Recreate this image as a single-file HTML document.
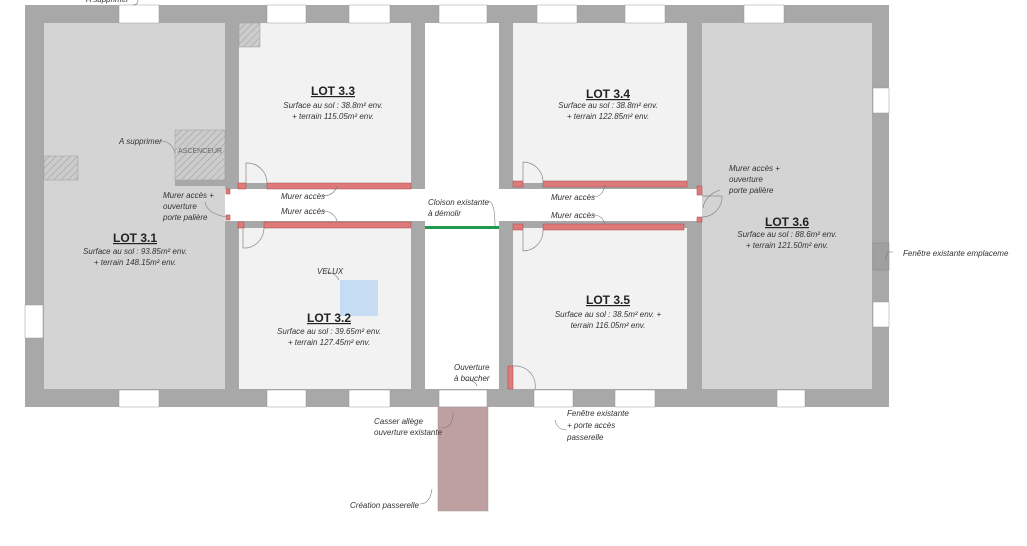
<!DOCTYPE html>
<html><head><meta charset="utf-8"><style>
html,body{margin:0;padding:0;background:#fff;width:1027px;height:546px;overflow:hidden}
text{font-family:"Liberation Sans",sans-serif;font-style:italic;font-size:8px;fill:#333}
.t{font-style:normal;font-weight:bold;font-size:12px;fill:#222;text-decoration:underline}
.c{text-anchor:middle}
</style></head><body>
<svg width="1027" height="546" viewBox="0 0 1027 546" xmlns="http://www.w3.org/2000/svg">
<defs><pattern id="h" width="5" height="5" patternUnits="userSpaceOnUse" patternTransform="rotate(45)"><rect width="5" height="5" fill="#ccc"/><line x1="0" y1="0" x2="0" y2="5" stroke="#999" stroke-width="1"/></pattern></defs>
<rect x="25" y="5" width="864" height="402" fill="#a8a8a8"/>
<rect x="44" y="23" width="181" height="366" fill="#d4d4d4"/>
<rect x="239" y="23" width="172" height="160" fill="#f2f2f2"/>
<rect x="239" y="228" width="172" height="161" fill="#f2f2f2"/>
<rect x="425" y="23" width="74" height="366" fill="#fff"/>
<rect x="513" y="23" width="174" height="160" fill="#f2f2f2"/>
<rect x="513" y="228" width="174" height="161" fill="#f2f2f2"/>
<rect x="702" y="23" width="170" height="366" fill="#d4d4d4"/>
<rect x="225" y="189" width="477" height="32" fill="#fff"/>
<g fill="#e07a7a" stroke="#a04848" stroke-width="0.5">
<rect x="238" y="183" width="8" height="6"/><rect x="267" y="183" width="144" height="6"/>
<rect x="238" y="222" width="6" height="6"/><rect x="264" y="222" width="147" height="6"/>
<rect x="513" y="181" width="10" height="6"/><rect x="543" y="181" width="144" height="6"/>
<rect x="513" y="224" width="10" height="6"/><rect x="543" y="224" width="141" height="6"/>
<rect x="226" y="189" width="4" height="5"/><rect x="226" y="215" width="4" height="5"/>
<rect x="697" y="186" width="5" height="9"/><rect x="697" y="217" width="5" height="5"/>
<rect x="508" y="366" width="5" height="23"/>
</g>
<rect x="425" y="226" width="74" height="3" fill="#1e9a4e"/>
<g fill="#fff" stroke="#999" stroke-width="0.5">
<rect x="119" y="5" width="40" height="18"/><rect x="267" y="5" width="39" height="18"/><rect x="349" y="5" width="41" height="18"/><rect x="439" y="5" width="48" height="18"/><rect x="537" y="5" width="40" height="18"/><rect x="625" y="5" width="40" height="18"/><rect x="744" y="5" width="40" height="18"/>
<rect x="119" y="390" width="40" height="17"/><rect x="267" y="390" width="39" height="17"/><rect x="349" y="390" width="41" height="17"/><rect x="439" y="390" width="48" height="17"/><rect x="534" y="390" width="39" height="17"/><rect x="615" y="390" width="40" height="17"/><rect x="777" y="390" width="28" height="17"/>
<rect x="873" y="88" width="16" height="25"/><rect x="873" y="302" width="16" height="25"/><rect x="25" y="305" width="18" height="33"/>
</g>
<rect x="873" y="243" width="16" height="27" fill="#a0a0a0" stroke="#888" stroke-width="0.5"/>
<rect x="175" y="130" width="50" height="50" fill="url(#h)" stroke="#999" stroke-width="0.5"/>
<rect x="175" y="180" width="50" height="6" fill="#a8a8a8"/>
<rect x="44" y="156" width="34" height="24" fill="url(#h)" stroke="#999" stroke-width="0.5"/>
<rect x="239" y="23" width="21" height="24" fill="url(#h)" stroke="#999" stroke-width="0.5"/>
<text x="200" y="153" class="c" style="font-style:normal;font-size:7px;fill:#666">ASCENCEUR</text>
<rect x="340" y="280" width="38" height="36" fill="#c6dcf2"/>
<rect x="438" y="407" width="50" height="104" fill="#bfa0a0" stroke="#999" stroke-width="0.5"/>
<g fill="none" stroke="#888" stroke-width="0.7">
<path d="M246 163 V183 M246 163 A20 20 0 0 1 267 183"/>
<path d="M243 248 V228 M243 248 A20 20 0 0 0 264 228"/>
<path d="M523 162 V181 M523 162 A20 20 0 0 1 543 181"/>
<path d="M523 251 V230 M523 251 A20 20 0 0 0 543 230"/>
<path d="M702 196 H722 M722 196 A20 20 0 0 1 702 217"/>
<path d="M513 366 A20 20 0 0 1 535 389"/>
</g>
<g fill="none" stroke="#777" stroke-width="0.6">
<path d="M160 141 q12 0 15 12"/><path d="M205 202 q2 12 22 15"/><path d="M322 196 q12 0 15 -10"/><path d="M322 211 q12 0 15 10"/>
<path d="M488 201 q7 0 7 25"/><path d="M593 197 q10 0 12 -12"/><path d="M593 215 q10 0 12 10"/>
<path d="M720 190 q-15 5 -17 18"/><path d="M893 252 h-5 l-3 8"/><path d="M465 380 q10 0 12 6"/>
<path d="M441 428 q12 0 12 -15"/><path d="M567 430 q-10 0 -12 -10"/><path d="M420 504 q10 0 12 -15"/>
<path d="M138 0 q0 5 -5 5"/><path d="M325 272 q10 0 14 8"/>
</g>
<text x="135" y="242" class="t c">LOT 3.1</text>
<text x="135" y="254" class="c">Surface au sol : 93.85m² env.</text>
<text x="135" y="265" class="c">+ terrain 148.15m² env.</text>
<text x="333" y="95" class="t c">LOT 3.3</text>
<text x="333" y="108" class="c">Surface au sol : 38.8m² env.</text>
<text x="333" y="119" class="c">+ terrain 115.05m² env.</text>
<text x="608" y="98" class="t c">LOT 3.4</text>
<text x="608" y="108" class="c">Surface au sol : 38.8m² env.</text>
<text x="608" y="119" class="c">+ terrain 122.85m² env.</text>
<text x="329" y="322" class="t c">LOT 3.2</text>
<text x="329" y="334" class="c">Surface au sol : 39.65m² env.</text>
<text x="329" y="345" class="c">+ terrain 127.45m² env.</text>
<text x="608" y="304" class="t c">LOT 3.5</text>
<text x="608" y="317" class="c">Surface au sol : 38.5m² env. +</text>
<text x="608" y="328" class="c">terrain 116.05m² env.</text>
<text x="787" y="226" class="t c">LOT 3.6</text>
<text x="787" y="237" class="c">Surface au sol : 88.6m² env.</text>
<text x="787" y="248" class="c">+ terrain 121.50m² env.</text>
<text x="119" y="144">A supprimer</text>
<text x="163" y="198">Murer accès +</text><text x="163" y="209">ouverture</text><text x="163" y="220">porte palière</text>
<text x="281" y="199">Murer accès</text><text x="281" y="214">Murer accès</text>
<text x="428" y="205">Cloison existante</text><text x="428" y="216">à démolir</text>
<text x="551" y="200">Murer accès</text><text x="551" y="218">Murer accès</text>
<text x="729" y="171">Murer accès +</text><text x="729" y="182">ouverture</text><text x="729" y="193">porte palière</text>
<text x="903" y="256">Fenêtre existante emplaceme</text>
<text x="317" y="274">VELUX</text>
<text x="454" y="370">Ouverture</text><text x="454" y="381">à boucher</text>
<text x="374" y="424">Casser allège</text><text x="374" y="435">ouverture existante</text>
<text x="567" y="416">Fenêtre existante</text><text x="567" y="428">+ porte accès</text><text x="567" y="440">passerelle</text>
<text x="350" y="508">Création passerelle</text>
<text x="86" y="2">A supprimer</text>
</svg>
</body></html>
